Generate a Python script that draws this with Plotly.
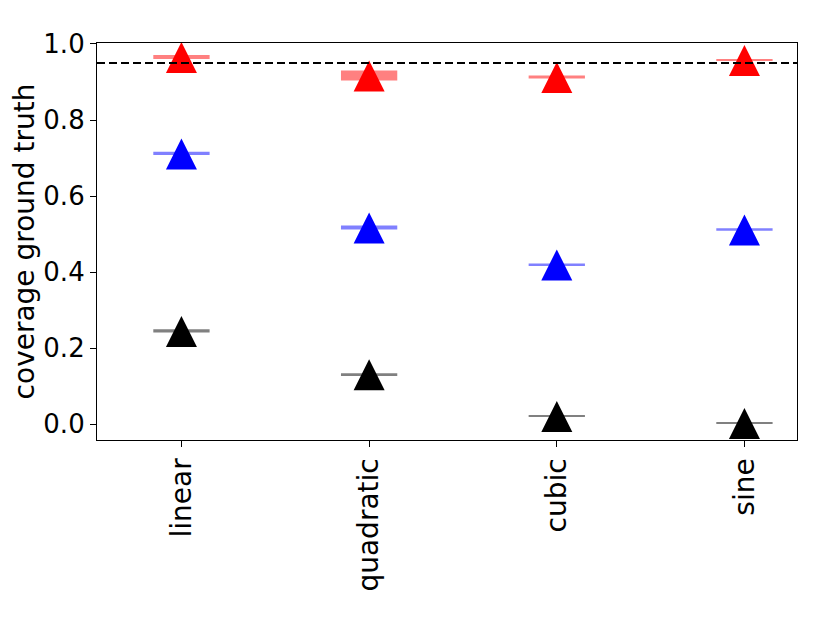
import plotly.graph_objects as go

categories = ["linear", "quadratic", "cubic", "sine"]

# mean coverage and half-width of the band for each method
red_mean = [0.966, 0.917, 0.913, 0.958]
red_sd = [0.0053, 0.013, 0.004, 0.0022]
blue_mean = [0.712, 0.517, 0.420, 0.512]
blue_sd = [0.0043, 0.0053, 0.0026, 0.0032]
black_mean = [0.245, 0.131, 0.021, 0.003]
black_sd = [0.0043, 0.0026, 0.0022, 0.0021]

nominal = 0.95

series = [
    (red_mean, red_sd, "#ff0000", "#ff8080"),
    (blue_mean, blue_sd, "#0000ff", "#8080ff"),
    (black_mean, black_sd, "#000000", "#808080"),
]

fig = go.Figure()

for mean, sd, col, band in series:
    fig.add_trace(go.Bar(
        x=categories,
        y=[2 * s for s in sd],
        base=[m - s for m, s in zip(mean, sd)],
        width=0.3,
        marker=dict(color=band, line=dict(width=0)),
        showlegend=False,
    ))

# matplotlib-style "^": apex-down arrow rotated so it points up, pushed up by half its height
for mean, sd, col, band in series:
    fig.add_trace(go.Scatter(
        x=categories, y=mean, mode="markers", cliponaxis=False,
        marker=dict(symbol="arrow-down", angle=180, size=31, color=col,
                    line=dict(width=0), standoff=15),
        showlegend=False,
    ))

fig.add_shape(
    type="line", xref="paper", x0=0, x1=1, yref="y", y0=nominal, y1=nominal,
    line=dict(color="black", width=2, dash="8px,4px"),
)

axis_style = dict(
    showline=True, linecolor="black", linewidth=1.2, mirror=True,
    ticks="outside", ticklen=6, tickwidth=1.2, tickcolor="black",
    showgrid=False, zeroline=False, automargin=False,
)

fig.update_xaxes(range=[-0.45, 3.28], tickangle=-90,
                 tickfont=dict(size=28, color="black"), **axis_style)
fig.update_yaxes(
    range=[-0.042, 1.0026], tickvals=[0, 0.2, 0.4, 0.6, 0.8, 1.0],
    tickformat=".1f", tickfont=dict(size=26, color="black"),
    title=dict(text="coverage ground truth", font=dict(size=28, color="black"), standoff=6),
    **axis_style,
)

fig.update_layout(
    width=822, height=615,
    paper_bgcolor="white", plot_bgcolor="white",
    font=dict(family="DejaVu Sans", color="black"),
    margin=dict(l=89, r=33, t=35, b=183),
    barmode="overlay",
)

fig.write_html("out.html")
